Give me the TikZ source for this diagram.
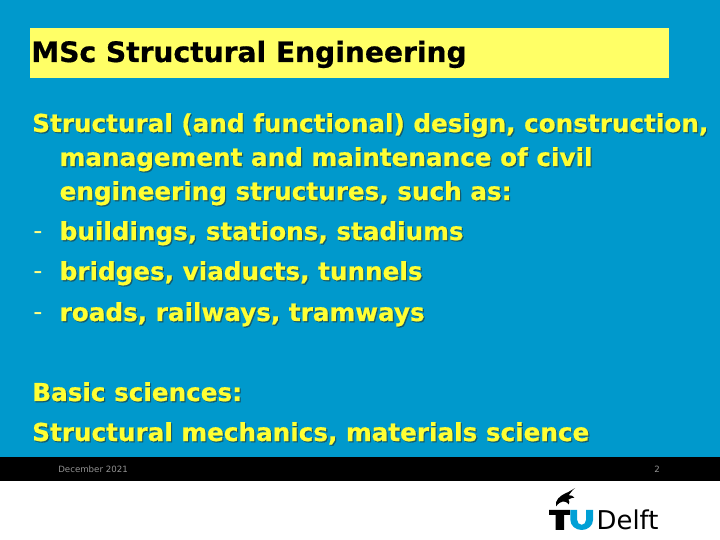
\documentclass[tikz,border=0pt]{standalone}
\usepackage{fontspec}
\setmainfont[BoldFeatures={FakeBold=0.6}]{DejaVu Sans}
\usetikzlibrary{positioning}
\definecolor{slideblue}{RGB}{0,153,204}
\definecolor{titleyellow}{RGB}{255,255,102}
\definecolor{textyellow}{RGB}{255,255,51}
\definecolor{shadowblue}{RGB}{20,90,110}
\definecolor{delftblue}{RGB}{0,160,214}
\tikzset{
	slidetext/.style={anchor=base west, inner sep=0, font=\fontsize{17.55}{20}\selectfont\bfseries, text=textyellow},
	slideshadow/.style={slidetext, text=shadowblue},
	dashtext/.style={anchor=base west, inner sep=0, font=\fontsize{18}{20}\selectfont, text=textyellow!60!white},
	foottext/.style={anchor=base west, inner sep=0, font=\fontsize{6.15}{8}\selectfont, text=gray!85}
}
% one line of body text, with its shadow under it
\newcommand{\slideline}[4]{
	\node [slideshadow] at (#2+0.3mm,#3-0.3mm) {#4};
	\node [slidetext] (#1) at (#2,#3) {#4};
}
\begin{document}
\begin{tikzpicture}
	\useasboundingbox (0mm,0mm) rectangle (180mm,135mm);
	\fill [white] (0mm,0mm) rectangle (180mm,135mm);
	\fill [slideblue] (0mm,20.25mm) rectangle (180mm,135mm);
	\fill [black] (0mm,14.75mm) rectangle (180mm,20.75mm);
	\fill [titleyellow] (7.5mm,115.5mm) rectangle (167.25mm,128mm);
	\node [anchor=base west, inner sep=0, font=\fontsize{20}{22}\selectfont\bfseries] (title) at (7.75mm,119.5mm) {MSc Structural Engineering};
	\slideline{lineA}{8mm}{102mm}{Structural (and functional) design, construction,}
	\slideline{lineB}{14.85mm}{93.5mm}{management and maintenance of civil}
	\slideline{lineC}{14.85mm}{85mm}{engineering structures, such as:}
	\node [dashtext] (dashA) at (8.25mm,75mm) {-};
	\slideline{lineD}{14.85mm}{75mm}{buildings, stations, stadiums}
	\node [dashtext] (dashB) at (8.25mm,65mm) {-};
	\slideline{lineE}{14.85mm}{65mm}{bridges, viaducts, tunnels}
	\node [dashtext] (dashC) at (8.25mm,54.75mm) {-};
	\slideline{lineF}{14.85mm}{54.75mm}{roads, railways, tramways}
	\slideline{lineG}{8mm}{34.75mm}{Basic sciences:}
	\slideline{lineH}{8mm}{24.75mm}{Structural mechanics, materials science}
	\node [foottext] (date) at (14.5mm,16.75mm) {December 2021};
	\node [foottext] (page) at (163.5mm,16.75mm) {2};
	% logo
	\fill [black] (137.25mm,7.5mm) -- (142.5mm,7.5mm) -- (142.5mm,6.25mm) -- (141mm,6.25mm) -- (141mm,2.5mm) -- (138.9mm,2.5mm) -- (138.9mm,6.25mm) -- (137.25mm,6.25mm) -- cycle;
	\fill [delftblue] (142.6mm,7.5mm) -- (144.3mm,7.5mm) -- (144.3mm,5mm) arc (180:360:1.1mm and 1.2mm) -- (146.5mm,7.5mm) -- (148.25mm,7.5mm) -- (148.25mm,5mm) arc (0:-180:2.825mm and 2.5mm) -- cycle;
	\node [anchor=base west, inner sep=0, font=\fontsize{18.4}{20}\selectfont] (delft) at (149.1mm,2.5mm) {Delft};
	% flame
	\fill [black] (139mm,8.4mm) .. controls (138.7mm,10mm) and (140mm,11mm) .. (141.2mm,11.6mm) .. controls (142.2mm,12mm) and (143mm,12.5mm) .. (143.75mm,13mm) .. controls (143mm,12.4mm) and (142.5mm,11.6mm) .. (142.2mm,11.2mm) .. controls (142.8mm,11.2mm) and (143.3mm,11mm) .. (143.6mm,10.6mm) .. controls (143mm,10.6mm) and (142.6mm,10.4mm) .. (142.1mm,10.1mm) .. controls (142.4mm,9.8mm) and (142.4mm,9.3mm) .. (142.2mm,8.9mm) .. controls (141.6mm,9.6mm) and (141mm,9.7mm) .. (140.6mm,9.6mm) .. controls (140.2mm,9.5mm) and (139.6mm,9.2mm) .. (139mm,8.4mm) -- cycle;
\end{tikzpicture}
\end{document}
